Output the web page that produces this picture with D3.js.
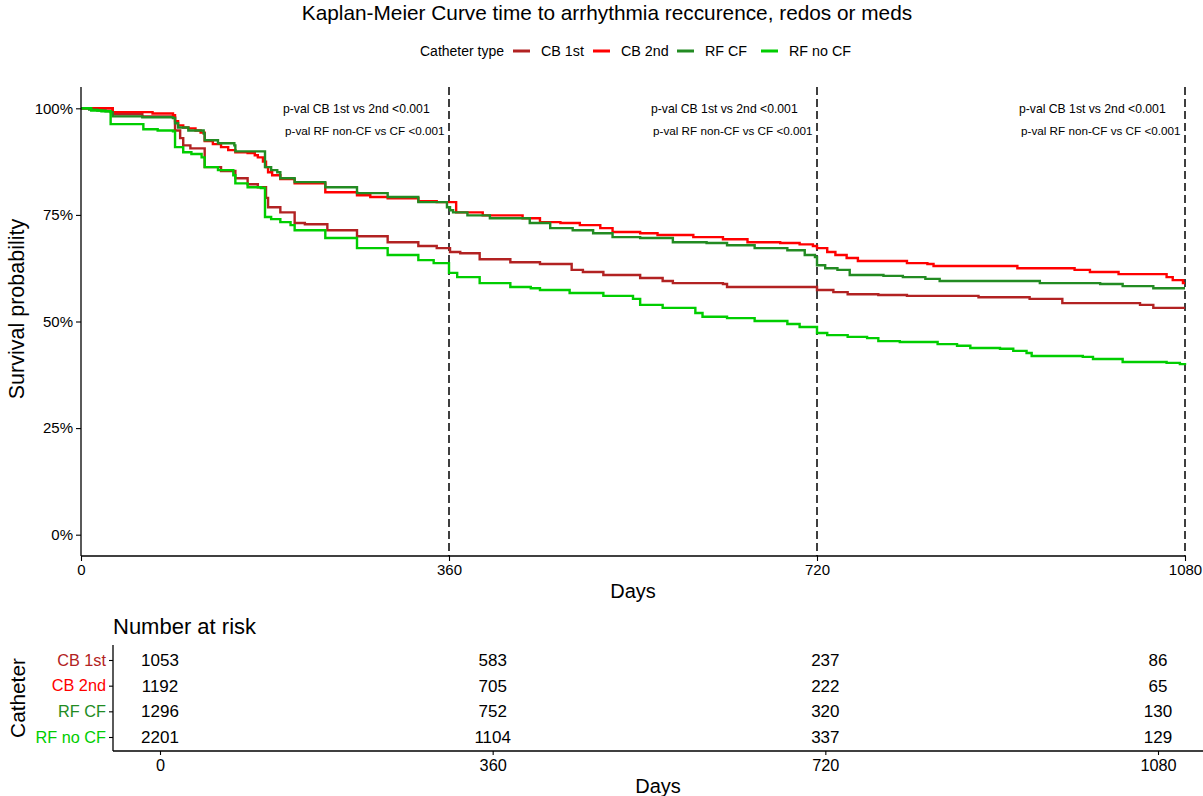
<!DOCTYPE html>
<html>
<head>
<meta charset="utf-8">
<script src="https://cdn.jsdelivr.net/npm/d3@7"></script>
<style>
body { margin: 0; background: #fff; }
text { font-family: "Liberation Sans", Arial, sans-serif; }
</style>
</head>
<body>
<svg id="chart" width="1203" height="796"></svg>
<script>
// ---------- DATA ----------
const categories = ["CB 1st", "CB 2nd", "RF CF", "RF no CF"];
const colors = ["#B22222", "#FF0000", "#228B22", "#00CD00"];

// step points [day, survival]
const cb1st = [[0,1.0],[31,0.986],[60,0.981],[90,0.979],[92,0.948],[97,0.930],[100,0.913],[107,0.906],[121,0.862],[137,0.853],[151,0.836],[163,0.822],[173,0.815],[181,0.790],[183,0.768],[195,0.756],[209,0.731],[219,0.728],[241,0.714],[270,0.700],[300,0.686],[330,0.677],[348,0.672],[361,0.663],[371,0.660],[390,0.646],[420,0.639],[449,0.635],[480,0.621],[491,0.616],[511,0.609],[547,0.602],[569,0.595],[579,0.590],[628,0.588],[632,0.581],[720,0.574],[736,0.569],[750,0.564],[780,0.562],[808,0.560],[878,0.557],[928,0.553],[960,0.543],[1036,0.539],[1049,0.532],[1080,0.532]];
const cb2nd = [[0,1.0],[31,0.991],[70,0.988],[90,0.984],[92,0.970],[95,0.960],[100,0.955],[105,0.953],[112,0.948],[117,0.943],[121,0.923],[129,0.916],[137,0.909],[144,0.902],[151,0.897],[163,0.895],[170,0.890],[173,0.885],[178,0.875],[181,0.862],[183,0.850],[187,0.843],[195,0.834],[209,0.824],[239,0.803],[270,0.796],[283,0.792],[300,0.789],[330,0.782],[348,0.780],[367,0.756],[393,0.749],[432,0.742],[449,0.733],[469,0.731],[488,0.726],[508,0.719],[520,0.710],[547,0.707],[564,0.703],[599,0.698],[628,0.693],[652,0.686],[684,0.684],[703,0.681],[716,0.677],[720,0.672],[730,0.663],[738,0.656],[749,0.649],[760,0.642],[808,0.637],[828,0.635],[834,0.630],[916,0.625],[972,0.621],[987,0.616],[1015,0.611],[1062,0.604],[1068,0.597],[1078,0.590],[1080,0.590]];
const rfcf = [[0,1.0],[8,0.997],[16,0.995],[24,0.993],[29,0.991],[31,0.981],[60,0.979],[90,0.977],[92,0.965],[95,0.955],[105,0.948],[120,0.941],[121,0.925],[134,0.918],[150,0.913],[151,0.899],[180,0.862],[186,0.855],[192,0.850],[195,0.836],[209,0.827],[239,0.815],[270,0.801],[300,0.792],[330,0.780],[358,0.768],[361,0.761],[364,0.756],[378,0.749],[400,0.742],[439,0.731],[459,0.719],[481,0.714],[501,0.707],[520,0.698],[547,0.696],[579,0.686],[612,0.684],[632,0.679],[659,0.672],[691,0.667],[708,0.656],[718,0.651],[720,0.632],[728,0.625],[740,0.621],[752,0.609],[785,0.607],[804,0.604],[826,0.600],[840,0.595],[938,0.590],[997,0.588],[1019,0.583],[1049,0.578],[1080,0.578]];
const rfnocf = [[0,1.0],[10,0.995],[20,0.993],[29,0.963],[61,0.951],[75,0.948],[90,0.946],[92,0.909],[100,0.897],[108,0.893],[118,0.885],[121,0.862],[134,0.855],[149,0.843],[151,0.824],[163,0.815],[176,0.813],[180,0.745],[186,0.740],[195,0.733],[205,0.726],[209,0.714],[239,0.696],[270,0.672],[300,0.656],[330,0.644],[345,0.637],[360,0.614],[368,0.604],[390,0.590],[420,0.581],[440,0.578],[449,0.574],[478,0.567],[511,0.560],[540,0.553],[547,0.539],[569,0.532],[601,0.520],[608,0.511],[632,0.508],[659,0.501],[691,0.494],[703,0.487],[720,0.473],[730,0.468],[750,0.464],[769,0.461],[780,0.454],[801,0.452],[838,0.447],[857,0.443],[870,0.438],[899,0.436],[912,0.431],[925,0.426],[930,0.419],[980,0.417],[990,0.412],[1019,0.405],[1062,0.403],[1075,0.400],[1080,0.398]];
const seriesData = [cb1st, cb2nd, rfcf, rfnocf];

const xTicks = [0, 360, 720, 1080];
const yTicks = [0, 0.25, 0.5, 0.75, 1.0];
const vLines = [360, 720, 1080];
const pvalLabels = ["p-val CB 1st vs 2nd <0.001", "p-val RF non-CF vs CF <0.001"];

const riskTimes = [0, 360, 720, 1080];
const riskCB1st = [1053, 583, 237, 86];
const riskCB2nd = [1192, 705, 222, 65];
const riskRFCF = [1296, 752, 320, 130];
const riskRFnoCF = [2201, 1104, 337, 129];
const riskRows = [riskCB1st, riskCB2nd, riskRFCF, riskRFnoCF];

// ---------- DRAW ----------
const FONT = "Liberation Sans, Arial, sans-serif";
const svg = d3.select("#chart");

// title
svg.append("text").attr("x", 607).attr("y", 20).attr("text-anchor", "middle")
  .attr("font-size", 20.8).text("Kaplan-Meier Curve time to arrhythmia reccurence, redos or meds");

// legend
const leg = svg.append("g");
leg.append("text").attr("x", 420).attr("y", 56).attr("font-size", 14).text("Catheter type");
const legKeyX = [513, 593, 677, 761];
categories.forEach((c, i) => {
  leg.append("line").attr("x1", legKeyX[i]).attr("x2", legKeyX[i] + 17)
    .attr("y1", 51).attr("y2", 51).attr("stroke", colors[i]).attr("stroke-width", 3);
  leg.append("text").attr("x", legKeyX[i] + 28).attr("y", 56).attr("font-size", 14.3).text(c);
});

// main plot scales
const x = d3.scaleLinear().domain([0, 1080]).range([81, 1185]);
const y = d3.scaleLinear().domain([-0.05, 1.05]).range([556, 87]);

// vertical dashed lines
vLines.forEach(v => {
  svg.append("line").attr("x1", x(v)).attr("x2", x(v)).attr("y1", y(1.05)).attr("y2", y(-0.05))
    .attr("stroke", "#000").attr("stroke-width", 1.5).attr("stroke-dasharray", "8,4");
});

// p-value labels
vLines.forEach(v => {
  svg.append("text").attr("x", x(v) - 166).attr("y", y(1.0) + 5).attr("font-size", 12.2).text(pvalLabels[0]);
  svg.append("text").attr("x", x(v) - 164).attr("y", y(0.95) + 5).attr("font-size", 11.7).text(pvalLabels[1]);
});

// curves
const line = d3.line().x(d => x(d[0])).y(d => y(d[1])).curve(d3.curveStepAfter);
seriesData.forEach((s, i) => {
  svg.append("path").datum(s).attr("d", line).attr("fill", "none")
    .attr("stroke", colors[i]).attr("stroke-width", 2.4);
});

// axes
const xAxis = svg.append("g").attr("transform", "translate(0,556)")
  .call(d3.axisBottom(x).tickValues(xTicks).tickSize(5).tickPadding(3).tickFormat(d3.format("d")));
const yAxis = svg.append("g").attr("transform", "translate(81,0)")
  .call(d3.axisLeft(y).tickValues(yTicks).tickSize(5).tickPadding(3).tickFormat(d3.format(".0%")));
[xAxis, yAxis].forEach(a => {
  a.select(".domain").attr("stroke", "#000").attr("stroke-width", 1.3);
  a.selectAll(".tick line").attr("stroke", "#000").attr("stroke-width", 1.1);
  a.selectAll(".tick text").attr("font-size", 15).attr("fill", "#000").attr("font-family", FONT);
});
xAxis.select(".domain").attr("d", "M81,0H1185");
yAxis.select(".domain").attr("d", "M0,87V556");

svg.append("text").attr("x", 633).attr("y", 598).attr("text-anchor", "middle").attr("font-size", 20).text("Days");
svg.append("text").attr("transform", "translate(24,309) rotate(-90)").attr("text-anchor", "middle")
  .attr("font-size", 21.5).text("Survival probability");

// risk table
svg.append("text").attr("x", 113).attr("y", 634).attr("font-size", 22).text("Number at risk");
const tx = d3.scaleLinear().domain([0, 1080]).range([160, 1158]);
const ty = d3.scalePoint().domain(categories).range([660, 737]);

const tAxisX = svg.append("g").attr("transform", "translate(0,751)")
  .call(d3.axisBottom(tx).tickValues(riskTimes).tickSize(4).tickPadding(4).tickFormat(d3.format("d")));
const tAxisY = svg.append("g").attr("transform", "translate(113,0)")
  .call(d3.axisLeft(ty).tickSize(4).tickPadding(3));
[tAxisX, tAxisY].forEach(a => {
  a.select(".domain").attr("stroke", "#000").attr("stroke-width", 1.3);
  a.selectAll(".tick line").attr("stroke", "#000").attr("stroke-width", 1.1);
  a.selectAll(".tick text").attr("font-size", 16.3).attr("fill", "#000").attr("font-family", FONT);
});
tAxisX.select(".domain").attr("d", "M113,0H1203");
tAxisY.select(".domain").attr("d", "M0,645V751");
tAxisY.selectAll(".tick text").attr("fill", d => colors[categories.indexOf(d)]);

riskRows.forEach((row, i) => {
  row.forEach((v, j) => {
    svg.append("text").attr("x", tx(riskTimes[j])).attr("y", ty(categories[i]) + 6)
      .attr("text-anchor", "middle").attr("font-size", 17).text(v);
  });
});

svg.append("text").attr("x", 658).attr("y", 793).attr("text-anchor", "middle").attr("font-size", 20).text("Days");
svg.append("text").attr("transform", "translate(25,698) rotate(-90)").attr("text-anchor", "middle")
  .attr("font-size", 20.8).text("Catheter");
</script>
</body>
</html>
